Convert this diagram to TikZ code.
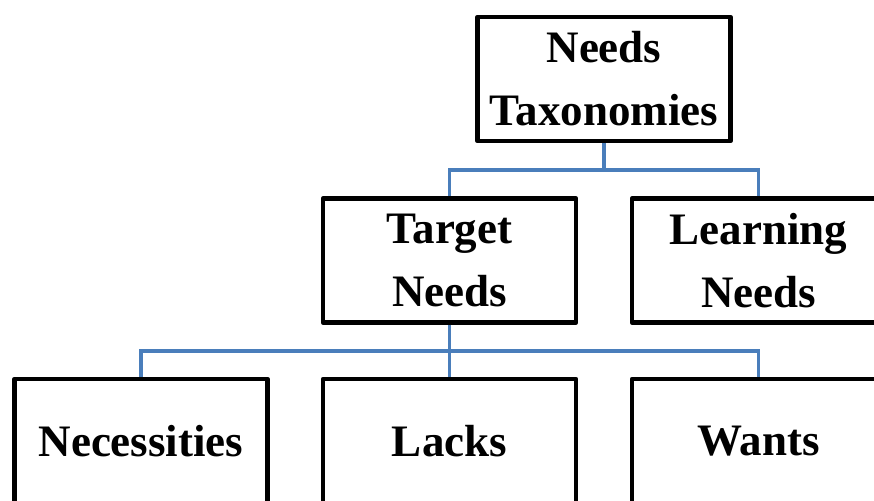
\documentclass[tikz,border=0pt]{standalone}
\usepackage{fontspec}
\setmainfont{Liberation Serif}
\definecolor{connblue}{HTML}{4A7EBB}
\tikzset{
  box/.style={draw=black, line width=4.5pt, line join=round, fill=white,
    minimum width=253pt, minimum height=124pt, align=center, inner sep=0pt,
    font=\fontsize{45}{63}\selectfont\bfseries},
  conn/.style={draw=connblue, line width=3.2pt}
}
\begin{document}
\begin{tikzpicture}[x=1pt,y=1pt]
\useasboundingbox (0,0) rectangle (874,500);
\clip (0,0) rectangle (874,500);
\fill[white] (0,0) rectangle (874,500);
\node[box] (nt) at (604,421) {Needs\\Taxonomies};
\node[box] (tn) at (449.5,239.5) {Target\\Needs};
\node[box] (ln) at (758.5,239.5) {Learning\\Needs};
\node[box] (nec) at (141,59) {Necessities};
\node[box] (lac) at (449.5,59) {Lacks};
\node[box] (wan) at (758.5,59) {Wants};
\coordinate (j1) at (604,330);
\coordinate (j2) at (449.5,149);
\draw[conn] (nt.south) -- (j1);
\draw[conn] (j1) -| (tn.north);
\draw[conn] (j1) -| (ln.north);
\draw[conn] (tn.south) -- (j2);
\draw[conn] (j2) -| (nec.north);
\draw[conn] (j2) -- (lac.north);
\draw[conn] (j2) -| (wan.north);
\end{tikzpicture}
\end{document}
